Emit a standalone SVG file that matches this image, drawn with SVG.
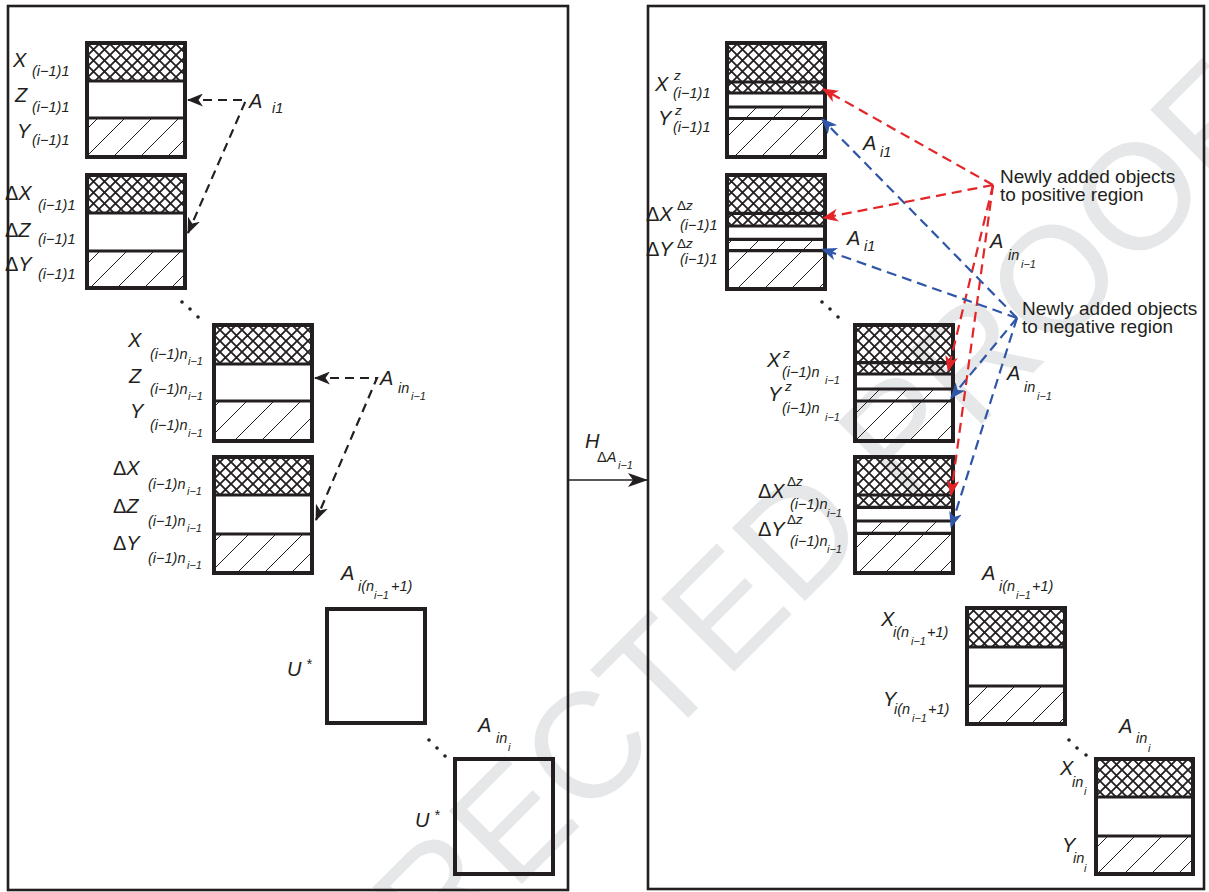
<svg xmlns="http://www.w3.org/2000/svg" width="1209" height="892" viewBox="0 0 1209 892">
<style>
text{font-family:"Liberation Sans",Arial,sans-serif;fill:#231f20;font-style:italic}
.m{font-size:20px}
.s{font-size:14.5px}
.sp{font-size:13.5px}
.ss{font-size:11px}
.u{font-style:normal}
.nt{font-style:normal;font-size:19px}
.wm{font-style:normal;fill:#e6e7e8;font-size:150px}
.panel{fill:none;stroke:#231f20;stroke-width:2.6}
.box{fill:none;stroke:#231f20;stroke-width:4}
.dv{stroke:#231f20;stroke-width:3.2}
.dk{fill:none;stroke:#231f20;stroke-width:2.2;stroke-dasharray:9 6}
.rd{fill:none;stroke:#e42528;stroke-width:2.2;stroke-dasharray:10 6}
.bl{fill:none;stroke:#3056a8;stroke-width:2.2;stroke-dasharray:10 6}
.dot{fill:#231f20}
</style>
<defs>
<pattern id="cross" patternUnits="userSpaceOnUse" width="11" height="11">
<path d="M0,0 L11,11 M11,0 L0,11" stroke="#231f20" stroke-width="1.8"/>
</pattern>
<pattern id="diag" patternUnits="userSpaceOnUse" width="27" height="27">
<path d="M0,27 L27,0" stroke="#231f20" stroke-width="1"/>
</pattern>
<marker id="ak" viewBox="0 0 16 13" refX="15" refY="6.5" markerWidth="16" markerHeight="13" markerUnits="userSpaceOnUse" orient="auto-start-reverse">
<path d="M0,0 L16,6.5 L0,13 L4.5,6.5 z" fill="#231f20"/>
</marker>
<marker id="ar" viewBox="0 0 16 13" refX="15" refY="6.5" markerWidth="16" markerHeight="13" markerUnits="userSpaceOnUse" orient="auto-start-reverse">
<path d="M0,0 L16,6.5 L0,13 L4.5,6.5 z" fill="#e42528"/>
</marker>
<marker id="ab" viewBox="0 0 16 13" refX="15" refY="6.5" markerWidth="16" markerHeight="13" markerUnits="userSpaceOnUse" orient="auto-start-reverse">
<path d="M0,0 L16,6.5 L0,13 L4.5,6.5 z" fill="#3056a8"/>
</marker>
<marker id="ah" viewBox="0 0 20 14" refX="20" refY="7" markerWidth="20" markerHeight="14" markerUnits="userSpaceOnUse" orient="auto">
<path d="M0,0 L20,7 L0,14 L5,7 z" fill="#231f20"/>
</marker>
</defs>

<rect width="1209" height="892" fill="#ffffff"/>
<text class="wm" x="201" y="1205" transform="rotate(-45 201 1205)">CORRECTED PROOF</text>

<g id="panels">
<rect class="panel" x="8" y="6" width="560" height="884"/>
<rect class="panel" x="648" y="6" width="556" height="883"/>
</g>

<!-- Left panel blocks -->
<g id="L1">
<rect x="87" y="43" width="98" height="38" fill="url(#cross)"/>
<rect x="87" y="118" width="98" height="39" fill="url(#diag)"/>
<line class="dv" x1="87" y1="81" x2="185" y2="81"/>
<line class="dv" x1="87" y1="118" x2="185" y2="118"/>
<rect class="box" x="87" y="43" width="98" height="114"/>
</g>
<g id="L2">
<rect x="87" y="175" width="98" height="38" fill="url(#cross)"/>
<rect x="87" y="251" width="98" height="37" fill="url(#diag)"/>
<line class="dv" x1="87" y1="213" x2="185" y2="213"/>
<line class="dv" x1="87" y1="251" x2="185" y2="251"/>
<rect class="box" x="87" y="175" width="98" height="113"/>
</g>
<g id="L3">
<rect x="214" y="325" width="98" height="39" fill="url(#cross)"/>
<rect x="214" y="401" width="98" height="40" fill="url(#diag)"/>
<line class="dv" x1="214" y1="364" x2="312" y2="364"/>
<line class="dv" x1="214" y1="401" x2="312" y2="401"/>
<rect class="box" x="214" y="325" width="98" height="116"/>
</g>
<g id="L4">
<rect x="214" y="457" width="98" height="38" fill="url(#cross)"/>
<rect x="214" y="534" width="98" height="39" fill="url(#diag)"/>
<line class="dv" x1="214" y1="495" x2="312" y2="495"/>
<line class="dv" x1="214" y1="534" x2="312" y2="534"/>
<rect class="box" x="214" y="457" width="98" height="116"/>
</g>
<g id="L5"><rect class="box" x="327" y="609" width="98" height="114"/></g>
<g id="L6"><rect class="box" x="455" y="759" width="98" height="115"/></g>

<!-- Right panel blocks -->
<g id="R1">
<rect x="727" y="43" width="98" height="50" fill="url(#cross)"/>
<rect x="727" y="107" width="98" height="50" fill="url(#diag)"/>
<line class="dv" x1="727" y1="82" x2="825" y2="82"/>
<line class="dv" x1="727" y1="93" x2="825" y2="93"/>
<line class="dv" x1="727" y1="107" x2="825" y2="107"/>
<line class="dv" x1="727" y1="118.5" x2="825" y2="118.5"/>
<rect class="box" x="727" y="43" width="98" height="114"/>
</g>
<g id="R2">
<rect x="727" y="175" width="98" height="51" fill="url(#cross)"/>
<rect x="727" y="239.5" width="98" height="50" fill="url(#diag)"/>
<line class="dv" x1="727" y1="213.3" x2="825" y2="213.3"/>
<line class="dv" x1="727" y1="226" x2="825" y2="226"/>
<line class="dv" x1="727" y1="239.3" x2="825" y2="239.3"/>
<line class="dv" x1="727" y1="250.7" x2="825" y2="250.7"/>
<rect class="box" x="727" y="175" width="98" height="114"/>
</g>
<g id="R3">
<rect x="855" y="325" width="98" height="49" fill="url(#cross)"/>
<rect x="855" y="389" width="98" height="52" fill="url(#diag)"/>
<line class="dv" x1="855" y1="362.7" x2="953" y2="362.7"/>
<line class="dv" x1="855" y1="374" x2="953" y2="374"/>
<line class="dv" x1="855" y1="389" x2="953" y2="389"/>
<line class="dv" x1="855" y1="401" x2="953" y2="401"/>
<rect class="box" x="855" y="325" width="98" height="116"/>
</g>
<g id="R4">
<rect x="855" y="457" width="98" height="50" fill="url(#cross)"/>
<rect x="855" y="521" width="98" height="52" fill="url(#diag)"/>
<line class="dv" x1="855" y1="495" x2="953" y2="495"/>
<line class="dv" x1="855" y1="507.3" x2="953" y2="507.3"/>
<line class="dv" x1="855" y1="521" x2="953" y2="521"/>
<line class="dv" x1="855" y1="533.3" x2="953" y2="533.3"/>
<rect class="box" x="855" y="457" width="98" height="116"/>
</g>
<g id="R5">
<rect x="967" y="608" width="98" height="39" fill="url(#cross)"/>
<rect x="967" y="686" width="98" height="38" fill="url(#diag)"/>
<line class="dv" x1="967" y1="647" x2="1065" y2="647"/>
<line class="dv" x1="967" y1="686" x2="1065" y2="686"/>
<rect class="box" x="967" y="608" width="98" height="116"/>
</g>
<g id="R6">
<rect x="1096" y="759" width="97" height="38" fill="url(#cross)"/>
<rect x="1096" y="836" width="97" height="38" fill="url(#diag)"/>
<line class="dv" x1="1096" y1="797" x2="1193" y2="797"/>
<line class="dv" x1="1096" y1="836" x2="1193" y2="836"/>
<rect class="box" x="1096" y="759" width="97" height="115"/>
</g>

<!-- dots -->
<g id="dots">
<circle class="dot" cx="182" cy="302" r="1.8"/><circle class="dot" cx="190" cy="309" r="1.8"/><circle class="dot" cx="198" cy="317" r="1.8"/>
<circle class="dot" cx="429" cy="740" r="1.8"/><circle class="dot" cx="437" cy="748" r="1.8"/><circle class="dot" cx="445" cy="756" r="1.8"/>
<circle class="dot" cx="822" cy="302" r="1.8"/><circle class="dot" cx="830" cy="309" r="1.8"/><circle class="dot" cx="838" cy="317" r="1.8"/>
<circle class="dot" cx="1069" cy="740" r="1.8"/><circle class="dot" cx="1077" cy="748" r="1.8"/><circle class="dot" cx="1086" cy="755" r="1.8"/>
</g>

<!-- connectors -->
<g id="connectors">
<path class="dk" d="M188,100 L246,100 L188,233" marker-start="url(#ak)" marker-end="url(#ak)"/>
<path class="dk" d="M315,378 L377,378 L316,520" marker-start="url(#ak)" marker-end="url(#ak)"/>
<line x1="568" y1="480" x2="648" y2="480" stroke="#231f20" stroke-width="1.3" marker-end="url(#ah)"/>
<path class="rd" d="M993,185 L823,89" marker-end="url(#ar)"/>
<path class="rd" d="M993,185 L823,218" marker-end="url(#ar)"/>
<path class="rd" d="M993,185 L948,371" marker-end="url(#ar)"/>
<path class="rd" d="M993,185 L951,495" marker-end="url(#ar)"/>
<path class="bl" d="M1017,318 L822,119" marker-end="url(#ab)"/>
<path class="bl" d="M1017,318 L822,249" marker-end="url(#ab)"/>
<path class="bl" d="M1017,318 L951,398" marker-end="url(#ab)"/>
<path class="bl" d="M1017,318 L951,527" marker-end="url(#ab)"/>
</g>

<!-- Left labels -->
<g id="labelsL">
<text class="m" x="13" y="67">X</text><text class="s" x="32" y="76">(i−1)1</text>
<text class="m" x="15" y="102">Z</text><text class="s" x="32" y="112">(i−1)1</text>
<text class="m" x="17" y="138">Y</text><text class="s" x="32" y="145">(i−1)1</text>
<text class="m" x="5" y="200"><tspan class="u">Δ</tspan>X</text><text class="s" x="38" y="210">(i−1)1</text>
<text class="m" x="5" y="237"><tspan class="u">Δ</tspan>Z</text><text class="s" x="38" y="244">(i−1)1</text>
<text class="m" x="5" y="271"><tspan class="u">Δ</tspan>Y</text><text class="s" x="38" y="279">(i−1)1</text>
<text class="m" x="249" y="108">A</text><text class="s" x="272" y="113">i1</text>

<text class="m" x="128" y="347">X</text><text class="s" x="150" y="359">(i−1)n</text><text class="ss" x="188" y="365">i−1</text>
<text class="m" x="129" y="383">Z</text><text class="s" x="150" y="394">(i−1)n</text><text class="ss" x="188" y="400">i−1</text>
<text class="m" x="130" y="418">Y</text><text class="s" x="150" y="430">(i−1)n</text><text class="ss" x="188" y="437">i−1</text>
<text class="m" x="113" y="475"><tspan class="u">Δ</tspan>X</text><text class="s" x="148" y="489">(i−1)n</text><text class="ss" x="187" y="495">i−1</text>
<text class="m" x="113" y="513"><tspan class="u">Δ</tspan>Z</text><text class="s" x="148" y="526">(i−1)n</text><text class="ss" x="187" y="532">i−1</text>
<text class="m" x="113" y="550"><tspan class="u">Δ</tspan>Y</text><text class="s" x="148" y="563">(i−1)n</text><text class="ss" x="187" y="569">i−1</text>
<text class="m" x="380" y="385">A</text><text class="s" x="398" y="393">in</text><text class="ss" x="411" y="400">i−1</text>

<text class="m" x="341" y="580">A</text><text class="s" x="358" y="591">i(n</text><text class="ss" x="374" y="599">i−1</text><text class="s" x="391" y="591">+1)</text>
<text class="m" x="287" y="676">U</text><text class="s" x="306" y="669">*</text>
<text class="m" x="478" y="732">A</text><text class="s" x="496" y="743">in</text><text class="ss" x="508" y="751">i</text>
<text class="m" x="415" y="827">U</text><text class="s" x="434" y="820">*</text>

<text class="m" x="585" y="448">H</text><text class="s" x="597" y="462"><tspan class="u">Δ</tspan>A</text><text class="ss" x="618" y="469">i−1</text>
</g>

<!-- Right labels -->
<g id="labelsR">
<text class="m" x="655" y="91">X</text><text class="sp" x="674" y="80">z</text><text class="s" x="673" y="98">(i−1)1</text>
<text class="m" x="658" y="125">Y</text><text class="sp" x="675" y="115">z</text><text class="s" x="673" y="132">(i−1)1</text>
<text class="m" x="646" y="221"><tspan class="u">Δ</tspan>X</text><text class="sp" x="677" y="210"><tspan class="u">Δ</tspan>z</text><text class="s" x="680" y="230">(i−1)1</text>
<text class="m" x="646" y="256"><tspan class="u">Δ</tspan>Y</text><text class="sp" x="677" y="248"><tspan class="u">Δ</tspan>z</text><text class="s" x="680" y="264">(i−1)1</text>
<text class="m" x="863" y="150">A</text><text class="s" x="880" y="157">i1</text>
<text class="m" x="847" y="245">A</text><text class="s" x="864" y="251">i1</text>

<text class="nt" x="1000" y="183">Newly added objects<tspan x="1000" y="201">to positive region</tspan></text>
<text class="nt" x="1022" y="315">Newly added objects<tspan x="1022" y="333">to negative region</tspan></text>

<text class="m" x="990" y="248">A</text><text class="s" x="1008" y="260">in</text><text class="ss" x="1021" y="268">i−1</text>
<text class="m" x="1007" y="380">A</text><text class="s" x="1024" y="392">in</text><text class="ss" x="1037" y="400">i−1</text>

<text class="m" x="767" y="367">X</text><text class="sp" x="783" y="358">z</text><text class="s" x="782" y="377">(i−1)n</text><text class="ss" x="825" y="384">i−1</text>
<text class="m" x="768" y="401">Y</text><text class="sp" x="785" y="391">z</text><text class="s" x="782" y="413">(i−1)n</text><text class="ss" x="825" y="421">i−1</text>
<text class="m" x="758" y="498"><tspan class="u">Δ</tspan>X</text><text class="sp" x="787" y="486"><tspan class="u">Δ</tspan>z</text><text class="s" x="790" y="509">(i−1)n</text><text class="ss" x="827" y="517">i−1</text>
<text class="m" x="758" y="536"><tspan class="u">Δ</tspan>Y</text><text class="sp" x="787" y="524"><tspan class="u">Δ</tspan>z</text><text class="s" x="790" y="546">(i−1)n</text><text class="ss" x="827" y="553">i−1</text>

<text class="m" x="982" y="580">A</text><text class="s" x="999" y="591">i(n</text><text class="ss" x="1016" y="599">i−1</text><text class="s" x="1032" y="591">+1)</text>
<text class="m" x="881" y="626">X</text><text class="s" x="893" y="637">i(n</text><text class="ss" x="911" y="645">i−1</text><text class="s" x="927" y="637">+1)</text>
<text class="m" x="883" y="706">Y</text><text class="s" x="894" y="714">i(n</text><text class="ss" x="912" y="722">i−1</text><text class="s" x="928" y="714">+1)</text>
<text class="m" x="1119" y="733">A</text><text class="s" x="1136" y="743">in</text><text class="ss" x="1148" y="752">i</text>
<text class="m" x="1060" y="775">X</text><text class="s" x="1072" y="787">in</text><text class="ss" x="1084" y="795">i</text>
<text class="m" x="1062" y="852">Y</text><text class="s" x="1073" y="863">in</text><text class="ss" x="1084" y="872">i</text>
</g>
</svg>
